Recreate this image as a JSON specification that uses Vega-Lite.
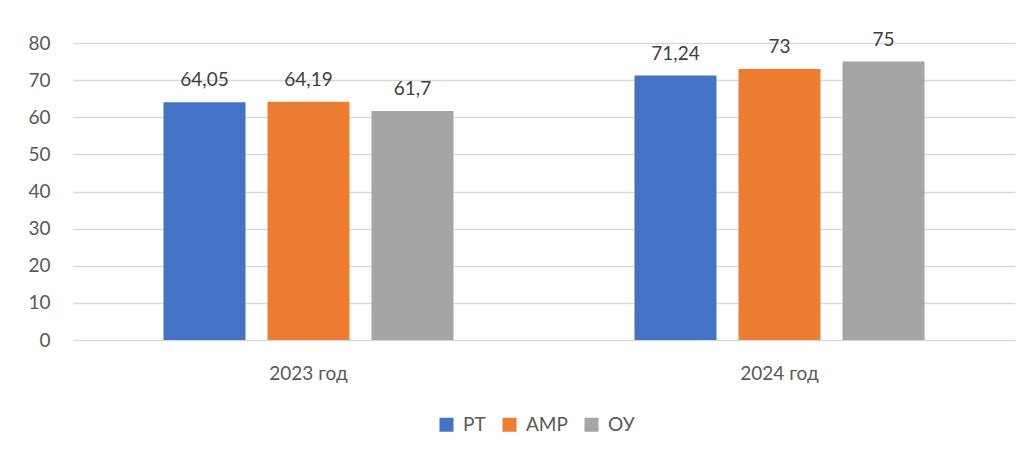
{
  "$schema": "https://vega.github.io/schema/vega-lite/v6.json",
  "autosize": {"type": "none"},
  "width": 942,
  "height": 297,
  "padding": {"left": 73, "top": 43, "right": 16, "bottom": 115},
  "background": "white",
  "config": {
    "view": {"stroke": null},
    "font": "Lato",
    "locale": {"number": {"decimal": ",", "thousands": " ", "grouping": [3], "currency": ["", ""]}}
  },
  "data": {
    "values": [
      {"year": "2023 год", "series": "РТ", "value": 64.05},
      {"year": "2023 год", "series": "АМР", "value": 64.19},
      {"year": "2023 год", "series": "ОУ", "value": 61.7},
      {"year": "2024 год", "series": "РТ", "value": 71.24},
      {"year": "2024 год", "series": "АМР", "value": 73},
      {"year": "2024 год", "series": "ОУ", "value": 75}
    ]
  },
  "encoding": {
    "x": {
      "field": "year", "type": "nominal", "sort": null,
      "scale": {"paddingInner": 0, "paddingOuter": 0},
      "axis": {"title": null, "labelAngle": 0, "domain": false, "ticks": false, "labelPadding": 24, "labelFontSize": 19, "labelColor": "#595959"}
    },
    "xOffset": {
      "field": "series", "type": "nominal", "sort": ["РТ", "АМР", "ОУ"],
      "scale": {"paddingInner": 0.2115, "paddingOuter": 0.87}
    },
    "y": {
      "field": "value", "type": "quantitative",
      "scale": {"domain": [0, 80]},
      "axis": {"title": null, "values": [0,10,20,30,40,50,60,70,80], "labelOverlap": false, "domain": false, "ticks": false, "labelPadding": 23, "labelFontSize": 19, "labelColor": "#595959", "gridColor": "#d9d9d9", "gridWidth": 1.5}
    }
  },
  "layer": [
    {
      "mark": {"type": "bar"},
      "encoding": {
        "color": {
          "field": "series", "type": "nominal", "sort": ["РТ", "АМР", "ОУ"],
          "scale": {"domain": ["РТ", "АМР", "ОУ"], "range": ["#4472C4", "#ED7D31", "#A5A5A5"]},
          "legend": {
            "title": null, "orient": "none", "direction": "horizontal",
            "legendX": 364, "legendY": 372,
            "symbolType": "square", "symbolSize": 196, "symbolStrokeWidth": 0,
            "labelFontSize": 19, "labelColor": "#595959", "labelOffset": 7, "columnPadding": 14
          }
        }
      }
    },
    {
      "mark": {"type": "text", "baseline": "bottom", "dy": -12, "fontSize": 19, "color": "#404040"},
      "encoding": {
        "text": {"field": "value", "type": "quantitative", "format": "~g"}
      }
    }
  ]
}
